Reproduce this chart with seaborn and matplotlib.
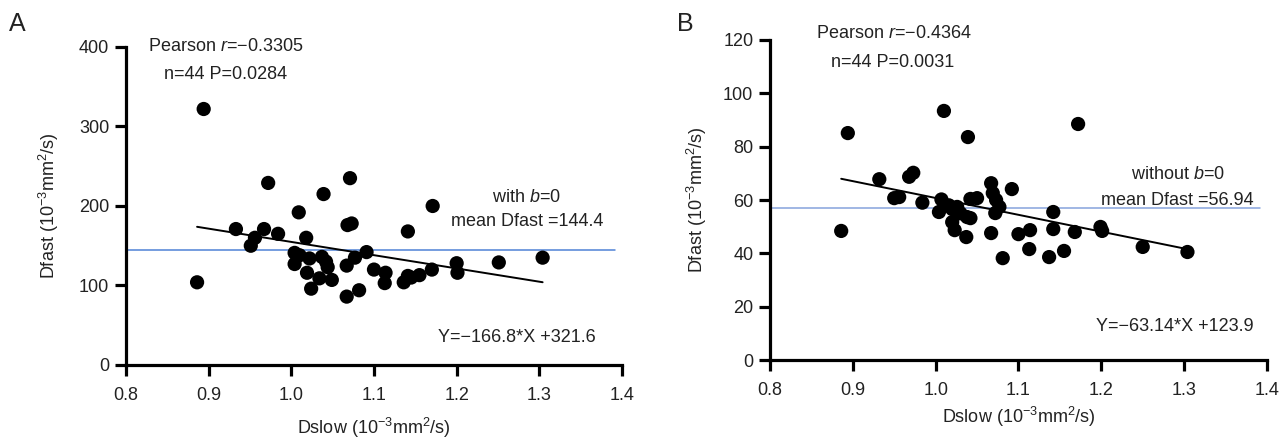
import numpy as np
import pandas as pd
import matplotlib
matplotlib.use("Agg")
import matplotlib.pyplot as plt
import seaborn as sns

sns.set_theme(style="white")
plt.rcParams["font.family"] = ["Liberation Sans", "DejaVu Sans"]
plt.rcParams["mathtext.fontset"] = "custom"
plt.rcParams["mathtext.rm"] = "Liberation Sans"
plt.rcParams["mathtext.it"] = "Liberation Sans:italic"
plt.rcParams["axes.unicode_minus"] = True

TEXT = "#222222"

# Panel A: Dslow vs Dfast (with b=0)
dslow_a = [0.886, 0.894, 0.933, 0.951, 0.956, 0.967, 0.972, 0.984, 1.004, 1.004,
           1.009, 1.018, 1.019, 1.022, 1.024, 1.034, 1.037, 1.039, 1.044, 1.049,
           1.067, 1.067, 1.068, 1.073, 1.071, 1.077, 1.082, 1.091, 1.100, 1.113,
           1.114, 1.136, 1.141, 1.141, 1.155, 1.170, 1.171, 1.200, 1.201, 1.251,
           1.304, 1.042, 1.010, 1.145]
dfast_a = [104, 322, 171, 150, 160, 171, 229, 165, 141, 127,
           192, 160, 116, 134, 96, 109, 136, 215, 123, 107,
           86, 125, 176, 178, 235, 135, 94, 142, 120, 103,
           116, 104, 112, 168, 113, 120, 200, 128, 116, 129,
           135, 130, 138, 110]

# Panel B: Dslow vs Dfast (without b=0)
dslow_b = [0.886, 0.894, 0.932, 0.950, 0.956, 0.968, 0.973, 0.984, 1.004, 1.007,
           1.010, 1.020, 1.026, 1.020, 1.023, 1.038, 1.042, 1.037, 1.042, 1.050,
           1.039, 1.067, 1.069, 1.092, 1.077, 1.072, 1.067, 1.081, 1.100, 1.114,
           1.113, 1.142, 1.142, 1.137, 1.155, 1.168, 1.172, 1.199, 1.201, 1.250,
           1.304, 1.030, 1.016, 1.073]
dfast_b = [48.4, 85.1, 67.8, 60.7, 61.1, 68.7, 70.2, 59.0, 55.5, 60.2,
           93.4, 56.6, 57.4, 51.7, 48.7, 53.6, 53.2, 46.1, 60.4, 60.7,
           83.6, 66.3, 62.6, 64.1, 57.4, 55.1, 47.6, 38.2, 47.2, 48.7,
           41.6, 55.5, 49.1, 38.6, 40.9, 48.0, 88.5, 49.9, 48.4, 42.4,
           40.5, 55.0, 58.0, 60.0]

# Fit parameters and statistics printed on each panel
slope_a, intercept_a, mean_a = -166.8, 321.6, 144.4
slope_b, intercept_b, mean_b = -63.14, 123.9, 56.94
stats_a = ("\u22120.3305", "n=44 P=0.0284")
stats_b = ("\u22120.4364", "n=44 P=0.0031")

x_ticks = [0.8, 0.9, 1.0, 1.1, 1.2, 1.3, 1.4]
y_ticks_a = [0, 100, 200, 300, 400]
y_ticks_b = [0, 20, 40, 60, 80, 100, 120]

fig = plt.figure(figsize=(12.79, 4.40), dpi=100)
ax_a = fig.add_axes([0.0985, 0.1705, 0.3878, 0.7227])
ax_b = fig.add_axes([0.602, 0.1818, 0.3886, 0.7273])

xlabel = "Dslow (10$^{\u22123}$mm$^{2}$/s)"
ylabel = "Dfast (10$^{\u22123}$mm$^{2}$/s)"
FS = 13


def draw_panel(ax, xs, ys, slope, intercept, mean_val, mean_color, yticks,
               stats, note, mean_text, eq_text, pos, xlabelpad, ylabelpad):
    df = pd.DataFrame({"Dslow": xs, "Dfast": ys})
    sns.scatterplot(data=df, x="Dslow", y="Dfast", ax=ax, s=105, color="black",
                    edgecolor="none", linewidth=0, clip_on=False, zorder=3)
    # mean reference line
    ax.plot([0.8, 1.392], [mean_val, mean_val], color=mean_color, lw=1.1, zorder=2)
    # linear fit over the observed Dslow range
    fx = np.array([min(xs), max(xs)])
    ax.plot(fx, slope * fx + intercept, color="black", lw=1.4, zorder=4)

    ax.set_xlim(0.8, 1.4)
    ax.set_ylim(yticks[0], yticks[-1])
    ax.set_xticks(x_ticks)
    ax.set_xticklabels([f"{v:.1f}" for v in x_ticks])
    ax.set_yticks(yticks)
    ax.set_yticklabels([str(v) for v in yticks])
    for side in ("top", "right"):
        ax.spines[side].set_visible(False)
    for side in ("left", "bottom"):
        ax.spines[side].set_linewidth(2.3)
        ax.spines[side].set_color("black")
        ax.spines[side].set_capstyle("projecting")
    ax.tick_params(axis="both", direction="out", length=8, width=2.3,
                   color="black", labelsize=FS, labelcolor=TEXT,
                   bottom=True, left=True)
    ax.tick_params(axis="x", pad=8)
    ax.tick_params(axis="y", pad=4)
    ax.set_xlabel(xlabel, fontsize=FS, color=TEXT, labelpad=xlabelpad)
    ax.set_ylabel(ylabel, fontsize=FS, color=TEXT, labelpad=ylabelpad)
    ax.set_facecolor("white")

    ax.text(pos["r"][0], pos["r"][1], "Pearson $\\it{r}$=" + stats[0],
            ha="center", va="center", fontsize=FS, color=TEXT)
    ax.text(pos["n"][0], pos["n"][1], stats[1],
            ha="center", va="center", fontsize=FS, color=TEXT)
    ax.text(pos["b"][0], pos["b"][1], note + " $\\it{b}$=0",
            ha="center", va="center", fontsize=FS, color=TEXT)
    ax.text(pos["m"][0], pos["m"][1], mean_text,
            ha="center", va="center", fontsize=FS, color=TEXT)
    ax.text(pos["eq"][0], pos["eq"][1], eq_text,
            ha="center", va="center", fontsize=FS, color=TEXT)


draw_panel(ax_a, dslow_a, dfast_a, slope_a, intercept_a, mean_a, "#4f82d6",
           y_ticks_a, stats_a, "with", f"mean Dfast ={mean_a}",
           f"Y=\u2212{abs(slope_a)}*X +{intercept_a}",
           {"r": (0.921, 400), "n": (0.920, 365), "b": (1.285, 211),
            "m": (1.285, 180), "eq": (1.273, 35)}, xlabelpad=8.5, ylabelpad=13)

draw_panel(ax_b, dslow_b, dfast_b, slope_b, intercept_b, mean_b, "#86a3dc",
           y_ticks_b, stats_b, "without", f"mean Dfast ={mean_b}",
           f"Y=\u2212{abs(slope_b)}*X +{intercept_b}",
           {"r": (0.950, 122.6), "n": (0.948, 111.7), "b": (1.292, 69.4),
            "m": (1.292, 60.0), "eq": (1.289, 12.4)}, xlabelpad=4, ylabelpad=10)

fig.text(0.007, 0.945, "A", fontsize=18, color=TEXT, ha="left", va="center")
fig.text(0.529, 0.945, "B", fontsize=18, color=TEXT, ha="left", va="center")

fig.savefig("out.png", dpi=100, facecolor="white")
